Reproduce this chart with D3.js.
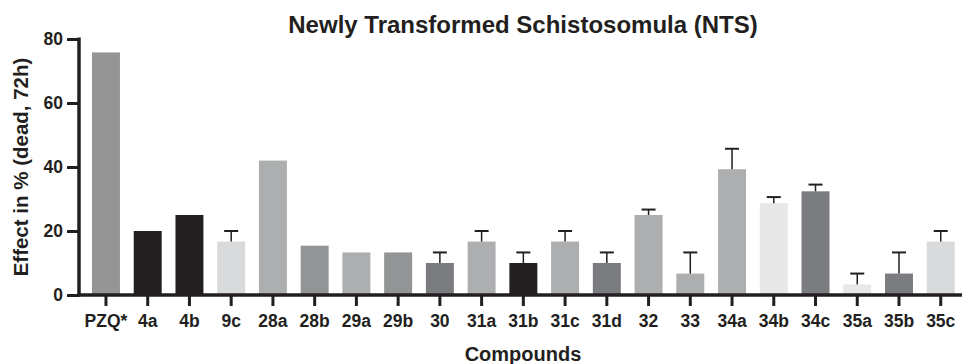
<!DOCTYPE html>
<html>
<head>
<meta charset="utf-8">
<script src="https://cdn.jsdelivr.net/npm/d3@7"></script>
<style>
  body { margin: 0; background: #fff; }
  text { font-family: "Liberation Sans", Arial, sans-serif; font-weight: bold; fill: #231f20; }
</style>
</head>
<body>
<div id="chart"></div>
<script>
var compounds = ["PZQ*","4a","4b","9c","28a","28b","29a","29b","30","31a","31b","31c","31d","32","33","34a","34b","34c","35a","35b","35c"];
var effect = [75.8,20,25,16.7,42,15.4,13.3,13.3,10,16.7,10,16.7,10,25,6.7,39.3,28.7,32.4,3.3,6.7,16.7];
var errUp = [0,0,0,3.3,0,0,0,0,3.3,3.3,3.3,3.3,3.3,1.7,6.6,6.4,1.9,2.1,3.4,6.6,3.3];
var barColors = ["#959595","#231f20","#231f20","#d9dadb","#adaeb0","#939495","#adaeb0","#939495","#7b7c80","#adaeb0","#231f20","#adaeb0","#7b7c80","#adaeb0","#adaeb0","#adaeb0","#e8e8e9","#7b7c80","#e8e8e9","#7b7c80","#d9dadb"];
var yTicks = [0,20,40,60,80];

var width = 963, height = 364;
var margin = {top: 39, right: 1, bottom: 69, left: 79};

var svg = d3.select("#chart").append("svg")
    .attr("width", width)
    .attr("height", height);

var x = d3.scaleBand()
    .domain(compounds)
    .range([85.1, 961.6])
    .paddingInner(0.33)
    .paddingOuter(0.165);

var y = d3.scaleLinear()
    .domain([0, 80])
    .range([height - margin.bottom, margin.top]);

// bars
svg.selectAll("rect.bar")
    .data(compounds)
    .enter().append("rect")
    .attr("class", "bar")
    .attr("x", function(d) { return x(d); })
    .attr("width", x.bandwidth())
    .attr("y", function(d, i) { return y(effect[i]); })
    .attr("height", function(d, i) { return y(0) - y(effect[i]); })
    .attr("fill", function(d, i) { return barColors[i]; });

// upper error bars only
var errs = svg.selectAll("g.err")
    .data(compounds.filter(function(d, i) { return errUp[i] > 0; }))
    .enter().append("g")
    .attr("class", "err");

errs.append("line")
    .attr("x1", function(d) { return x(d) + x.bandwidth() / 2; })
    .attr("x2", function(d) { return x(d) + x.bandwidth() / 2; })
    .attr("y1", function(d) { var i = compounds.indexOf(d); return y(effect[i]); })
    .attr("y2", function(d) { var i = compounds.indexOf(d); return y(effect[i] + errUp[i]); })
    .attr("stroke", "#231f20")
    .attr("stroke-width", 1.5);

errs.append("line")
    .attr("x1", function(d) { return x(d) + x.bandwidth() / 2 - 7; })
    .attr("x2", function(d) { return x(d) + x.bandwidth() / 2 + 7; })
    .attr("y1", function(d) { var i = compounds.indexOf(d); return y(effect[i] + errUp[i]); })
    .attr("y2", function(d) { var i = compounds.indexOf(d); return y(effect[i] + errUp[i]); })
    .attr("stroke", "#231f20")
    .attr("stroke-width", 2);

// y axis
var yAxis = svg.append("g")
    .attr("transform", "translate(" + margin.left + ",0)")
    .call(d3.axisLeft(y).tickValues(yTicks).tickSize(12).tickPadding(4));
yAxis.select(".domain").remove();
yAxis.selectAll(".tick line").attr("stroke", "#231f20").attr("stroke-width", 3);
yAxis.selectAll(".tick text").style("font-size", "17.5px").style("font-family", "Liberation Sans, Arial, sans-serif").attr("fill", "#231f20");
yAxis.append("line")
    .attr("x1", 0).attr("x2", 0)
    .attr("y1", y(80) - 1.5).attr("y2", y(0) + 1.5)
    .attr("stroke", "#231f20").attr("stroke-width", 3.5);

// x axis
var xAxis = svg.append("g")
    .attr("transform", "translate(0," + y(0) + ")")
    .call(d3.axisBottom(x).tickSize(11).tickPadding(8.5));
xAxis.select(".domain").remove();
xAxis.selectAll(".tick line").attr("stroke", "#231f20").attr("stroke-width", 3);
xAxis.selectAll(".tick text").style("font-size", "17.5px").style("font-family", "Liberation Sans, Arial, sans-serif").attr("fill", "#231f20");
xAxis.append("line")
    .attr("x1", margin.left - 1.5).attr("x2", width - margin.right)
    .attr("y1", 0).attr("y2", 0)
    .attr("stroke", "#231f20").attr("stroke-width", 3.5);

// titles
svg.append("text")
    .attr("x", 523)
    .attr("y", 33)
    .attr("text-anchor", "middle")
    .style("font-size", "24px")
    .text("Newly Transformed Schistosomula (NTS)");

svg.append("text")
    .attr("x", 523)
    .attr("y", 361)
    .attr("text-anchor", "middle")
    .style("font-size", "20px")
    .text("Compounds");

svg.append("text")
    .attr("transform", "translate(28,167) rotate(-90)")
    .attr("text-anchor", "middle")
    .style("font-size", "20.5px")
    .text("Effect in % (dead, 72h)");
</script>
</body>
</html>
